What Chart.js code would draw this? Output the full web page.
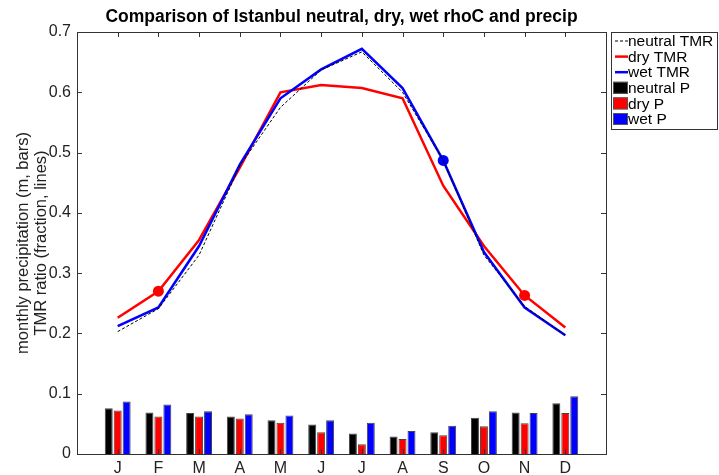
<!DOCTYPE html>
<html>
<head>
<meta charset="utf-8">
<script src="https://cdn.jsdelivr.net/npm/chart.js@4.4.1/dist/chart.umd.min.js"></script>
<style>
  html, body { margin: 0; padding: 0; background: #fff; }
  #wrap { width: 719px; height: 475px; position: relative; }
</style>
</head>
<body>
<div id="wrap"><canvas id="chart" width="719" height="475"></canvas></div>
<script>
// data
const MONTHS = ['J', 'F', 'M', 'A', 'M', 'J', 'J', 'A', 'S', 'O', 'N', 'D'];
const Y_TICKS = [0, 0.1, 0.2, 0.3, 0.4, 0.5, 0.6, 0.7];

const neutralTMR = [0.203, 0.241, 0.330, 0.478, 0.575, 0.637, 0.667, 0.600, 0.487, 0.330, 0.245, 0.197];
const dryTMR     = [0.226, 0.270, 0.355, 0.475, 0.600, 0.612, 0.607, 0.590, 0.445, 0.345, 0.263, 0.210];
const wetTMR     = [0.212, 0.243, 0.345, 0.480, 0.590, 0.638, 0.672, 0.607, 0.487, 0.335, 0.243, 0.197];

const neutralP = [0.076, 0.069, 0.068, 0.062, 0.056, 0.049, 0.034, 0.029, 0.036, 0.060, 0.069, 0.084];
const dryP     = [0.072, 0.062, 0.062, 0.059, 0.052, 0.036, 0.016, 0.025, 0.031, 0.046, 0.051, 0.068];
const wetP     = [0.087, 0.082, 0.071, 0.066, 0.064, 0.056, 0.052, 0.038, 0.047, 0.071, 0.068, 0.096];

// months that carry a dot marker
const dryMarked = [1, 10];
const wetMarked = [8];

const FONT = '"Liberation Sans", Arial, Helvetica, sans-serif';
const AXIS_COLOR = '#333';

function pts(arr) {
    return arr.map((v, i) => ({ x: i + 1, y: v }));
}
function radii(marked) {
    return MONTHS.map((_, i) => marked.includes(i) ? 5.5 : 0);
}

const legendItems = [
    { label: 'neutral TMR', kind: 'line', color: '#000', dash: [3, 2], width: 1 },
    { label: 'dry TMR', kind: 'line', color: '#ff0000', dash: [], width: 2.5 },
    { label: 'wet TMR', kind: 'line', color: '#0000ff', dash: [], width: 2.5 },
    { label: 'neutral P', kind: 'box', color: '#000' },
    { label: 'dry P', kind: 'box', color: '#ff0000' },
    { label: 'wet P', kind: 'box', color: '#0000ff' }
];

// matlab-ish frame: box, inward ticks, title and legend
const framePlugin = {
    id: 'frame',
    afterDraw(chart) {
        const ctx = chart.ctx;
        const a = chart.chartArea;
        const xs = chart.scales.x, ys = chart.scales.y;
        ctx.save();
        ctx.strokeStyle = AXIS_COLOR;
        ctx.lineWidth = 1;
        ctx.strokeRect(a.left + 0.5, a.top + 0.5, a.right - a.left, a.bottom - a.top);
        ctx.beginPath();
        for (let i = 0; i <= 12; i++) {
            const px = Math.round(xs.getPixelForValue(i)) + 0.5;
            ctx.moveTo(px, a.bottom); ctx.lineTo(px, a.bottom - 5);
            ctx.moveTo(px, a.top); ctx.lineTo(px, a.top + 5);
        }
        Y_TICKS.forEach(v => {
            const py = Math.round(ys.getPixelForValue(v)) + 0.5;
            ctx.moveTo(a.left, py); ctx.lineTo(a.left + 5, py);
            ctx.moveTo(a.right, py); ctx.lineTo(a.right - 5, py);
        });
        ctx.stroke();

        // title
        ctx.fillStyle = '#000';
        ctx.font = 'bold 17.5px ' + FONT;
        ctx.textAlign = 'center';
        ctx.textBaseline = 'middle';
        ctx.fillText('Comparison of Istanbul neutral, dry, wet rhoC and precip', (a.left + a.right) / 2, 17);

        // legend
        const lx = 611, ly = 32, lw = 107, lh = 98;
        ctx.fillStyle = '#fff';
        ctx.fillRect(lx, ly, lw, lh);
        ctx.strokeStyle = '#333';
        ctx.strokeRect(lx + 0.5, ly + 0.5, lw - 1, lh - 1);
        ctx.font = '15.5px ' + FONT;
        ctx.textAlign = 'left';
        legendItems.forEach((it, i) => {
            const cy = ly + 9 + i * 15.6;
            if (it.kind === 'line') {
                ctx.beginPath();
                ctx.setLineDash(it.dash);
                ctx.strokeStyle = it.color;
                ctx.lineWidth = it.width;
                ctx.moveTo(lx + 4, cy); ctx.lineTo(lx + 17, cy);
                ctx.stroke();
                ctx.setLineDash([]);
            } else {
                ctx.fillStyle = it.color;
                ctx.fillRect(lx + 2, cy - 6, 15, 12);
                ctx.strokeStyle = '#555';
                ctx.lineWidth = 1;
                ctx.strokeRect(lx + 2.5, cy - 5.5, 14, 11);
            }
            ctx.fillStyle = '#000';
            ctx.fillText(it.label, lx + 17, cy + 1);
        });
        ctx.restore();
    }
};

new Chart(document.getElementById('chart'), {
    type: 'bar',
    plugins: [framePlugin],
    data: {
        datasets: [
            { type: 'line', label: 'neutral TMR', data: pts(neutralTMR), borderColor: '#000', borderWidth: 1,
              borderDash: [3, 2], pointRadius: 0, order: 1 },
            { type: 'line', label: 'wet TMR', data: pts(wetTMR), borderColor: '#0000ff', backgroundColor: '#0000ff',
              borderWidth: 2.5, pointRadius: radii(wetMarked), pointBorderWidth: 0, order: 2 },
            { type: 'line', label: 'dry TMR', data: pts(dryTMR), borderColor: '#ff0000', backgroundColor: '#ff0000',
              borderWidth: 2.5, pointRadius: radii(dryMarked), pointBorderWidth: 0, order: 3 },
            { label: 'neutral P', data: pts(neutralP), backgroundColor: '#000', borderColor: '#444', borderWidth: 1, order: 4 },
            { label: 'dry P', data: pts(dryP), backgroundColor: '#ff0000', borderColor: '#444', borderWidth: 1, order: 5 },
            { label: 'wet P', data: pts(wetP), backgroundColor: '#0000ff', borderColor: '#444', borderWidth: 1, order: 6 }
        ]
    },
    options: {
        responsive: false,
        animation: false,
        events: [],
        categoryPercentage: 0.66,
        barPercentage: 0.89,
        layout: { padding: { top: 32, right: 113, left: 0, bottom: 0 } },
        plugins: {
            legend: { display: false },
            tooltip: { enabled: false }
        },
        scales: {
            x: {
                type: 'linear',
                min: 0,
                max: 13,
                offset: false,
                grid: { display: false, drawTicks: false },
                border: { display: false },
                ticks: {
                    stepSize: 1,
                    autoSkip: false,
                    maxRotation: 0,
                    padding: 5,
                    color: '#222',
                    font: { family: FONT, size: 16 },
                    callback: v => (v >= 1 && v <= 12) ? MONTHS[v - 1] : ''
                },
                afterFit: s => { s.height = 21; s.paddingLeft = 0; s.paddingRight = 0; }
            },
            y: {
                min: 0,
                max: 0.7,
                grid: { display: false, drawTicks: false },
                border: { display: false },
                ticks: {
                    stepSize: 0.1,
                    padding: 6,
                    color: '#222',
                    font: { family: FONT, size: 16 },
                    callback: v => String(+v.toFixed(1))
                },
                title: {
                    display: true,
                    text: ['monthly precipitation (m, bars)', 'TMR ratio (fraction, lines)'],
                    color: '#222',
                    font: { family: FONT, size: 16.5, lineHeight: 1.05 },
                    padding: { top: 15, bottom: 0 }
                },
                afterFit: s => { s.width = 77; s.paddingTop = 0; s.paddingBottom = 0; }
            }
        }
    }
});
</script>
</body>
</html>
